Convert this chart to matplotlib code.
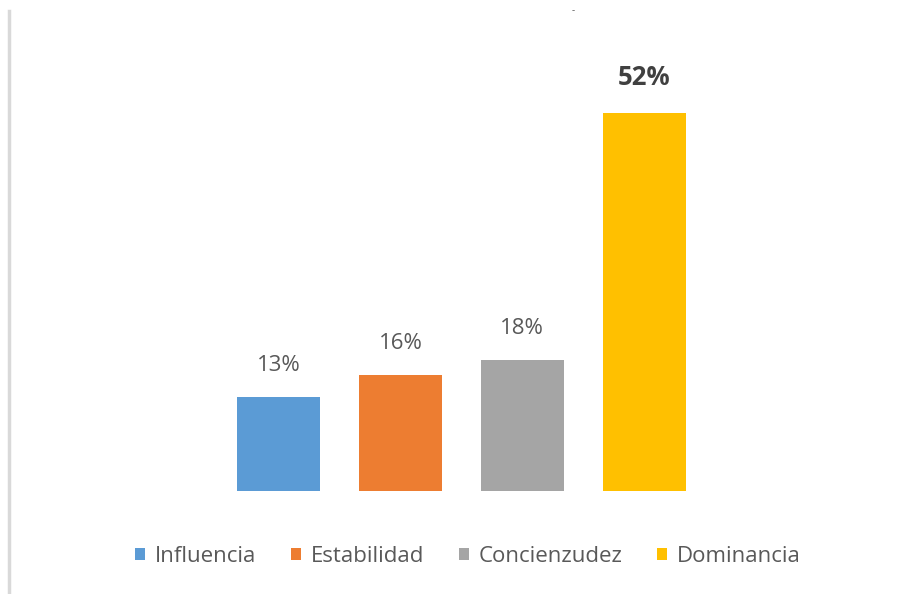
import matplotlib
matplotlib.use("Agg")
import matplotlib.pyplot as plt
from matplotlib.patches import Patch
from matplotlib.lines import Line2D

categories = ["Influencia", "Estabilidad", "Concienzudez", "Dominancia"]
values = [13, 16, 18, 52]
labels = ["13%", "16%", "18%", "52%"]
colors = ["#5B9BD5", "#ED7D31", "#A5A5A5", "#FFC000"]

plt.rcParams['font.family'] = ['Open Sans', 'DejaVu Sans']

fig = plt.figure(figsize=(8.99, 5.94), dpi=100)
ax = fig.add_axes([218/899, 103/594, 487/899, 436/594])
x = list(range(len(categories)))
bars = ax.bar(x, values, width=0.68, color=colors)
ax.set_xlim(-0.5, 3.5)
ax.set_ylim(0, 60)
ax.axis('off')

for i, (b, lab) in enumerate(zip(bars, labels)):
    bold = (i == len(values) - 1)
    ax.annotate(lab, (b.get_x() + b.get_width()/2, b.get_height()),
                xytext=(0, 22.5 if not bold else 26), textcoords='offset points',
                ha='center', va='center', fontsize=16 if not bold else 18.5,
                fontweight='bold' if bold else 'normal',
                color='#404040' if bold else '#595959')

# left border line of chart frame
fig.add_artist(Line2D([9/899, 9/899], [0, 1 - 11/594], color='#D9D9D9', lw=2.5))
# small stray mark at top
fig.text(573/899, 1 - 11/594, "-", color='#595959', fontsize=7, ha='center', va='center')

handles = [Patch(facecolor=c, edgecolor='none') for c in colors]
leg = fig.legend(handles, categories, loc='center', bbox_to_anchor=(468/899, 1 - 556/594),
                 ncol=4, frameon=False, fontsize=16, handlelength=0.45, handleheight=0.45,
                 handletextpad=0.45, columnspacing=1.55, labelcolor='#595959')

fig.savefig("out.png", dpi=100)
